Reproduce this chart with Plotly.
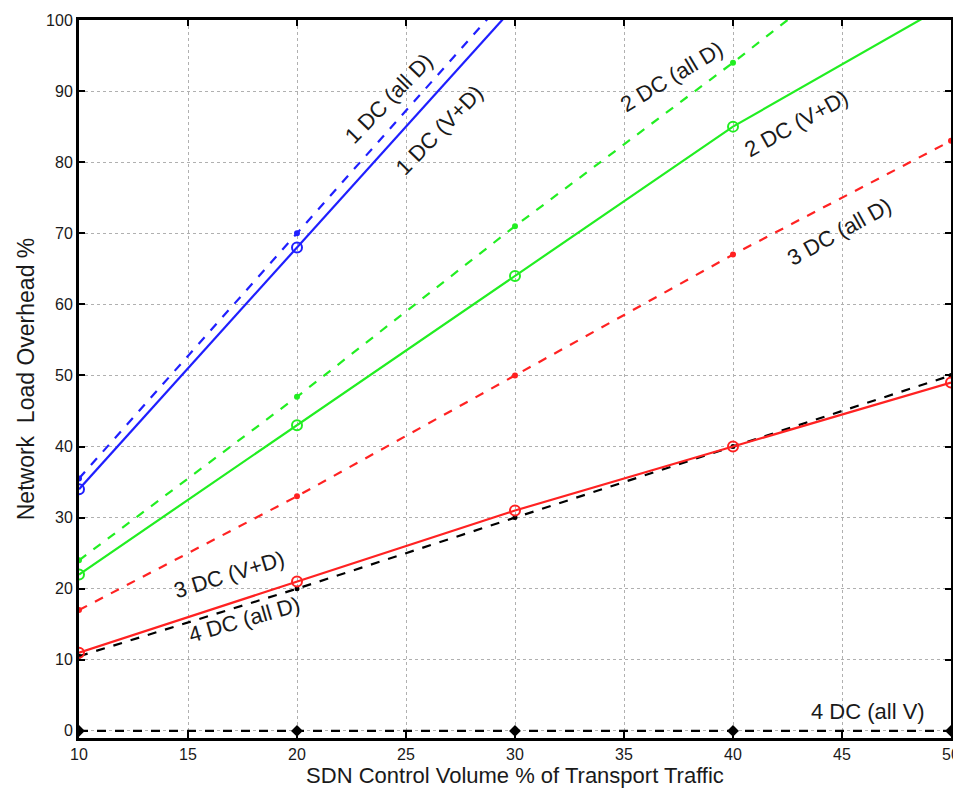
import plotly.graph_objects as go

x = [10, 20, 30, 40, 50]

dc1_vd = [34, 68, 102, None, None]
dc1_alld = [35.5, 70, 104.5, None, None]
dc2_alld = [24, 47, 71, 94, 118]
dc2_vd = [22, 43, 64, 85, 102.5]
dc3_alld = [17, 33, 50, 67, 83]
dc3_vd = [11, 21, 31, 40, 49]
dc4_alld = [10.5, 20, 30, 40, 50]
dc4_allv = [0, 0, 0, 0, 0]

x_ticks = [10, 15, 20, 25, 30, 35, 40, 45, 50]
y_ticks = [0, 10, 20, 30, 40, 50, 60, 70, 80, 90, 100]

# label text, x, y, angle
labels = [
    ("1 DC (all D)", 24.2, 89.0, -46),
    ("1 DC (V+D)", 26.5, 84.5, -46),
    ("2 DC (all D)", 37.2, 92.1, -31),
    ("2 DC (V+D)", 42.9, 85.5, -29),
    ("3 DC (all D)", 44.9, 70.2, -29),
    ("3 DC (V+D)", 16.9, 22.0, -17),
    ("4 DC (all D)", 17.6, 15.6, -16),
    ("4 DC (all V)", 46.2, 2.7, 0),
]

BLUE = "#1f1fff"
GREEN = "#22ee22"
RED = "#ff2222"
BLACK = "#000000"

fig = go.Figure()

def add(y, color, dash, symbol, size, name):
    fig.add_trace(go.Scatter(
        x=x, y=y, mode="lines+markers", name=name,
        line=dict(color=color, width=2.2, dash=dash),
        marker=dict(symbol=symbol, size=size, color=color,
                    line=dict(color=color, width=2)),
        cliponaxis=True, connectgaps=False,
    ))

add(dc4_allv, BLACK, "dash", "diamond", 7, "4 DC (all V)")
add(dc4_alld, BLACK, "dash", "circle", 3, "4 DC (all D)")
add(dc3_alld, RED, "dash", "circle", 4, "3 DC (all D)")
add(dc3_vd, RED, "solid", "circle-open", 10, "3 DC (V+D)")
add(dc2_alld, GREEN, "dash", "circle", 4, "2 DC (all D)")
add(dc2_vd, GREEN, "solid", "circle-open", 10, "2 DC (V+D)")
add(dc1_alld, BLUE, "dash", "circle", 4, "1 DC (all D)")
add(dc1_vd, BLUE, "solid", "circle-open", 10, "1 DC (V+D)")

for t, lx, ly, ang in labels:
    fig.add_annotation(x=lx, y=ly, text=t, textangle=ang, showarrow=False,
                       font=dict(family="Liberation Sans, Arial", size=22, color="#1a1a1a"))

fig.update_layout(
    width=953, height=784,
    margin=dict(l=71, r=10, t=12, b=54),
    plot_bgcolor="white", paper_bgcolor="white",
    showlegend=False,
    font=dict(family="Liberation Sans, Arial", color="#1a1a1a"),
)
fig.update_xaxes(
    range=[10, 50], tickvals=x_ticks, ticks="inside", ticklen=6, tickwidth=2,
    tickcolor="black", showline=True, linecolor="black", linewidth=3, mirror="ticks",
    showgrid=True, gridcolor="#b0b0b0", griddash="dot", gridwidth=1,
    zeroline=False, tickfont=dict(size=16), automargin=False,
    title=dict(text="SDN Control Volume % of Transport Traffic", font=dict(size=22), standoff=4),
)
fig.update_yaxes(
    range=[-1, 100], tickvals=y_ticks, ticks="inside", ticklen=6, tickwidth=2,
    tickcolor="black", showline=True, linecolor="black", linewidth=3, mirror="ticks",
    showgrid=True, gridcolor="#b0b0b0", griddash="dot", gridwidth=1,
    zeroline=False, tickfont=dict(size=16), automargin=False,
    title=dict(text="Network  Load Overhead %", font=dict(size=23), standoff=6),
)

fig.write_html("out.html")
